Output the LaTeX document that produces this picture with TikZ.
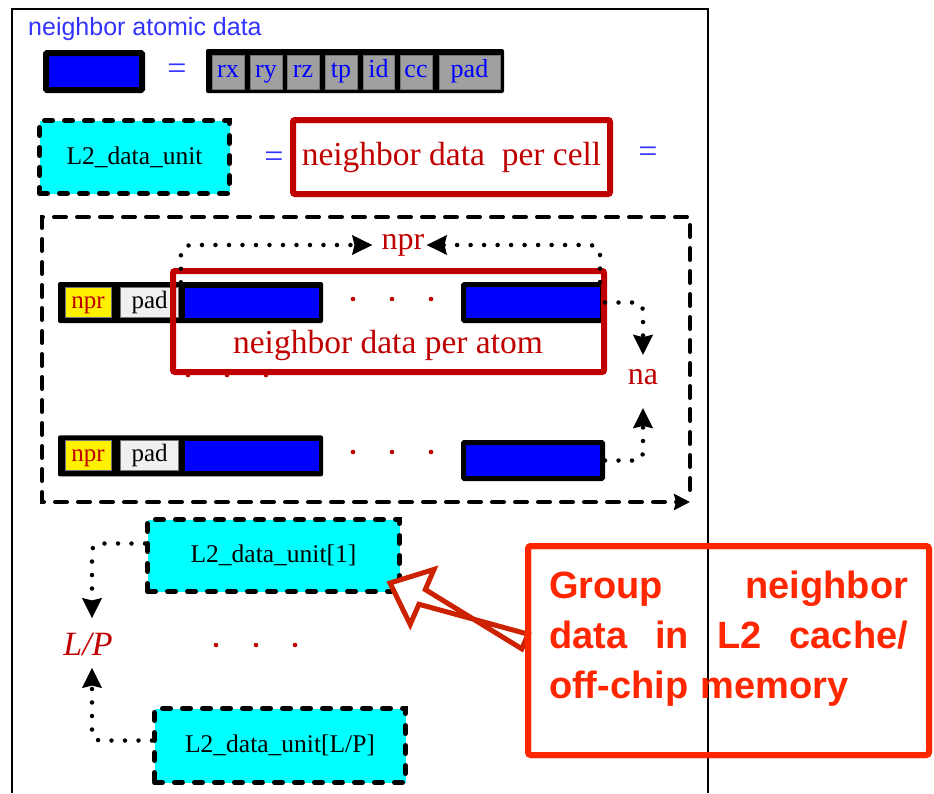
\documentclass[tikz,border=0pt]{standalone}
\usepackage{fontspec}
\setmainfont{Liberation Serif}
\setsansfont{Liberation Sans}
\usetikzlibrary{arrows.meta, calc, positioning}

\definecolor{keyblue}{RGB}{51,51,255}
\definecolor{atomblue}{RGB}{0,0,255}
\definecolor{unitcyan}{RGB}{0,255,255}
\definecolor{cellgray}{RGB}{160,160,160}
\definecolor{padgray}{RGB}{240,240,240}
\definecolor{darkred}{RGB}{192,0,0}
\definecolor{calloutred}{RGB}{255,38,0}
\definecolor{hollowred}{RGB}{204,34,0}

\begin{document}
\begin{tikzpicture}[
  x=1pt, y=-1pt,
  keytext/.style={text=keyblue, inner sep=0pt, font=\sffamily\fontsize{25}{29}\selectfont},
  eqsign/.style={text=keyblue, inner sep=0pt, font=\fontsize{34}{40}\selectfont},
  atomcell/.style={
    rectangle,
    draw=black,
    line width=5pt,
    fill=atomblue,
    rounded corners=1pt,
    inner sep=0pt,
    minimum height=36pt
  },
  atomfill/.style={rectangle, fill=atomblue, inner sep=0pt, minimum height=30pt},
  fieldbar/.style={rectangle, fill=black, rounded corners=2pt, inner sep=0pt},
  fieldcell/.style={
    rectangle,
    draw=black!55,
    line width=0.6pt,
    fill=cellgray,
    text=atomblue,
    inner sep=0pt,
    minimum height=34pt,
    text height=11.5pt,
    text depth=0pt,
    font=\fontsize{26}{28}\selectfont
  },
  nprcell/.style={fieldcell, fill=yellow, text=darkred, minimum width=46pt, minimum height=30pt, text height=11pt, font=\fontsize{25}{27}\selectfont},
  padcell/.style={fieldcell, fill=padgray, text=black, minimum width=58pt, minimum height=30pt, text height=11pt, font=\fontsize{25}{27}\selectfont},
  unitbox/.style={
    rectangle,
    draw=black,
    line width=5pt,
    dash pattern=on 8pt off 12pt,
    line cap=round,
    fill=unitcyan,
    inner sep=0pt,
    font=\fontsize{25.5}{29}\selectfont
  },
  redframe/.style={
    rectangle,
    draw=darkred,
    line width=6pt,
    rounded corners=2pt,
    inner sep=0pt,
    text=darkred,
    font=\fontsize{33.5}{38}\selectfont
  },
  redlabel/.style={text=darkred, inner sep=2pt, font=\fontsize{32}{36}\selectfont},
  reddot/.style={fill=darkred},
  dotline/.style={line width=4.5pt, dash pattern=on 0pt off 13.5pt, line cap=round},
  dottip/.style={-{Stealth[length=20pt, width=19pt, inset=2pt]}},
  bigdash/.style={line width=4pt, dash pattern=on 12pt off 11pt, line cap=round},
  callout/.style={rectangle, draw=calloutred, line width=6pt, rounded corners=3pt, inner sep=0pt},
  callouttext/.style={
    text=calloutred,
    text width=359pt,
    align=left,
    inner sep=0pt,
    font=\sffamily\bfseries\fontsize{38}{50}\selectfont
  },
  hollowarrow/.style={draw=hollowred, line width=5pt, fill=white, line join=miter}
]
\useasboundingbox (0,0) rectangle (934,793);

% page frame
\draw[line width=2pt] (12,793) -- (12,9) -- (708,9) -- (708,793);

% key: one neighbor atom
\node[keytext, anchor=base west] (title) at (28,35) {neighbor atomic data};
\node[atomcell, minimum width=96pt, minimum height=37pt, line width=6pt] (atomkey) at (94,71.5) {};
\node[eqsign] (eqatom) at (177,72) {=};
\node[fieldbar, minimum width=298pt, minimum height=44pt] (fields) at (355,71) {};
\foreach \name/\cx/\w in {rx/228/32pt, ry/266/32pt, rz/303/32pt, tp/341/32pt, id/378.5/31pt, cc/416/32pt, pad/469.5/61pt}
  \node[fieldcell, minimum width=\w] (f\name) at (\cx,72) {\name};

% key: data unit
\node[unitbox, minimum width=190pt, minimum height=73pt] (unitkey) at (134.5,157) {L2\_data\_unit};
\node[eqsign] (equnit) at (274,160) {=};
\node[redframe, minimum width=317pt, minimum height=74pt] (cellbox) at (451.5,157) {neighbor data\ \ per cell};
\node[eqsign] (eqcell) at (648,155) {=};

% one cell: na rows of npr atoms
\draw[bigdash, -{Stealth[length=16pt, width=16pt, inset=2pt]}] (690,490) -- (690,217) -- (42,217) -- (42,502) -- (690,502);

\node[fieldbar, minimum width=265pt, minimum height=41pt] (row1) at (190.5,302.5) {};
\node[nprcell] (npr1) at (88,302.5) {npr};
\node[padcell, right=9pt of npr1] (pad1) {pad};
\node[atomfill, minimum width=134pt, right=6pt of pad1] (blueA1) {};
\node[atomcell, minimum width=139pt] (blueB1) at (533,302.5) {};

\node[fieldbar, minimum width=265pt, minimum height=41pt, below=112pt of row1] (row2) {};
\node[nprcell] (npr2) at (88,455.5) {npr};
\node[padcell, right=9pt of npr2] (pad2) {pad};
\node[atomfill, minimum width=134pt, right=6pt of pad2] (blueA2) {};
\node[atomcell, minimum width=139pt, below=117pt of blueB1] (blueB2) {};

\foreach \dx in {353,392,431} {
  \fill[reddot] (\dx,299) circle[radius=2.3pt];
  \fill[reddot] (\dx,452) circle[radius=2.3pt];
}
\foreach \dx in {188,227,266}
  \fill[reddot] (\dx,375) circle[radius=2.3pt];

\node[redframe, minimum width=431pt, minimum height=101pt] (atombox) at (388.5,321.5) {};
\node[redlabel, font=\fontsize{33.5}{38}\selectfont, anchor=base] (atomtext) at (388,353) {neighbor data per atom};

\node[redlabel] (nprlabel) at (403,245) {npr};
\draw[dotline, dottip, rounded corners=10pt, shorten >=7pt] ($(blueA1.north west)+(-4,-5)$) |- (nprlabel.west);
\draw[dotline, dottip, rounded corners=10pt] ($(blueB1.north east)+(-5,0)$) |- (nprlabel.east);

\node[redlabel] (nalabel) at (643,377) {na};
\draw[dotline, dottip, rounded corners=8pt, shorten >=12pt] (blueB1.east) -| (nalabel.north);
\draw[dotline, dottip, rounded corners=8pt, shorten >=21pt] (blueB2.east) -| (nalabel.south);

% the L/P data units
\node[unitbox, minimum width=252pt, minimum height=72pt] (unitone) at (273.5,555.5) {L2\_data\_unit[1]};
\node[unitbox, minimum width=251pt, minimum height=74pt] (unitlast) at (280,745.5) {L2\_data\_unit[L/P]};
\foreach \dx in {216,256,295}
  \fill[reddot] (\dx,645) circle[radius=2.3pt];

\node[redlabel, font=\itshape\fontsize{34}{38}\selectfont] (lplabel) at (88,644) {L/P};
\draw[dotline, dottip, rounded corners=8pt, shorten >=12pt] ($(unitone.west)+(0,-12)$) -| ($(lplabel.north)+(4,0)$);
\draw[dotline, dottip, rounded corners=8pt, shorten >=10pt] ($(unitlast.west)+(0,-5)$) -| ($(lplabel.south)+(4,0)$);

% callout
\node[callout, minimum width=401pt, minimum height=209pt] (callout) at (728.5,650.5) {};
\coordinate (tipend) at ($(unitone.south east)+(-12,-11)$);
\coordinate (tailend) at ($(callout.west)+(0,-9)$);
\coordinate (headbase) at ($(tipend)!35pt!(tailend)$);
\draw[hollowarrow] (tipend)
  -- ($(headbase)!30pt!90:(tipend)$)
  -- ($(headbase)!8pt!90:(tipend)$)
  -- ($(tailend)!8pt!-90:(tipend)$)
  -- ($(tailend)!8pt!90:(tipend)$)
  -- ($(headbase)!8pt!-90:(tipend)$)
  -- ($(headbase)!30pt!-90:(tipend)$)
  -- cycle;
\node[callout, minimum width=401pt, minimum height=209pt] (calloutedge) at (callout) {};
\node[callouttext, yshift=12pt] (callouttext) at (callout) {Group\hfill neighbor\\ data\hfill in\hfill L2\hfill cache/\\ off-chip memory};

\end{tikzpicture}
\end{document}
